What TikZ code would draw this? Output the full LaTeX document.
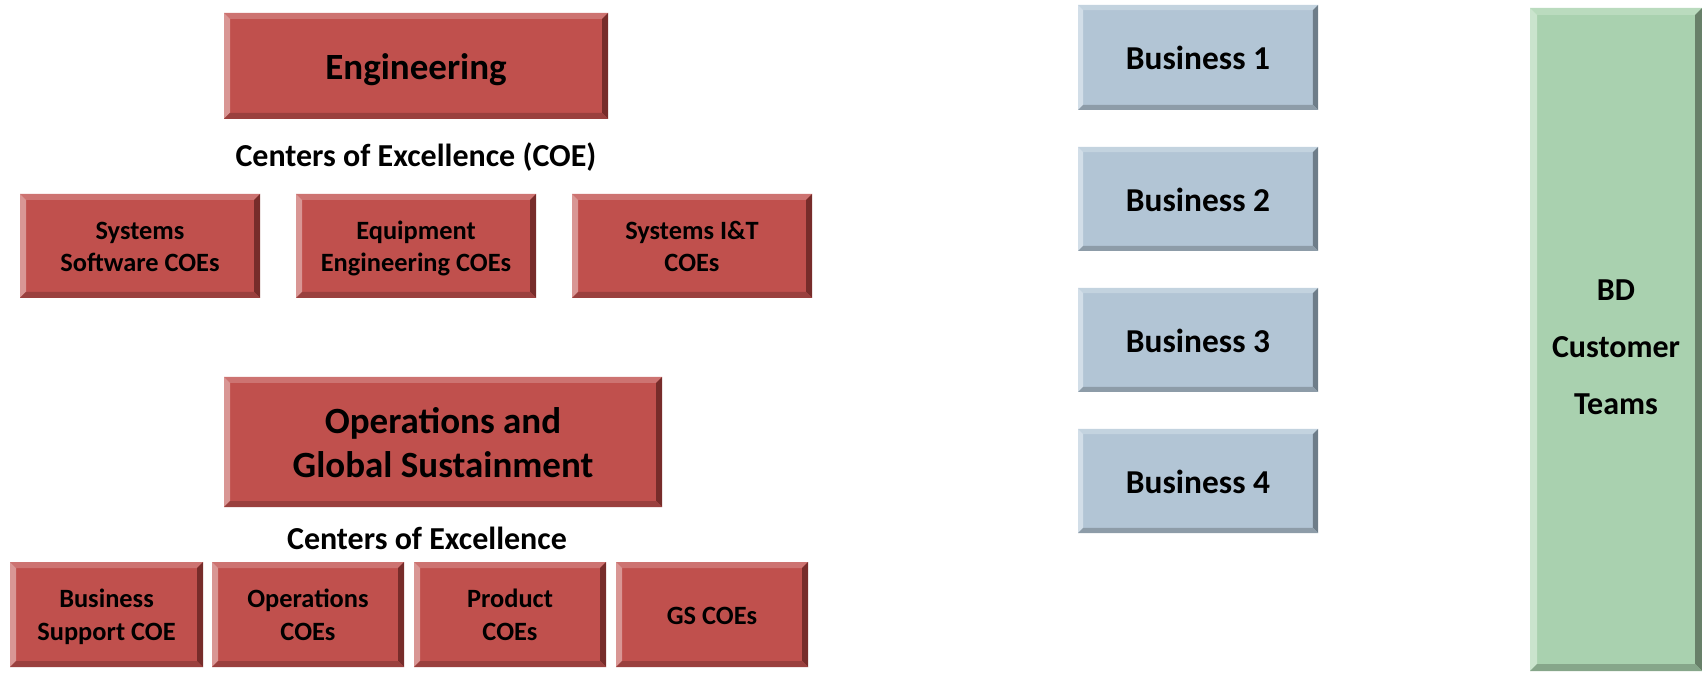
\documentclass[tikz,border=0pt]{standalone}
\usepackage{fontspec}
\setmainfont{Carlito}

% bevel palettes: face, top, left, right and bottom facets
\definecolor{redmain}{HTML}{C0504D}
\definecolor{redtop}{HTML}{CD7371}
\definecolor{redleft}{HTML}{D99694}
\definecolor{redright}{HTML}{772C2A}
\definecolor{redbot}{HTML}{9A403E}
\definecolor{bluemain}{HTML}{B2C5D5}
\definecolor{bluetop}{HTML}{C3D3DF}
\definecolor{blueleft}{HTML}{D2DEE8}
\definecolor{blueright}{HTML}{6E7D89}
\definecolor{bluebot}{HTML}{8D9CA8}
\definecolor{greenmain}{HTML}{A9D1AF}
\definecolor{greentop}{HTML}{BADBBE}
\definecolor{greenleft}{HTML}{CAE4CD}
\definecolor{greenright}{HTML}{688069}
\definecolor{greenbot}{HTML}{86A68A}

% line box: one baselineskip tall, with the capitals roughly centred in it
\newcommand\boxstrut{\vrule width0pt height\dimexpr0.5\baselineskip+0.36em\relax
  depth\dimexpr0.5\baselineskip-0.36em\relax}

\tikzset{
  bevel/.style 2 args={rectangle, inner sep=0pt, fill=#1main, align=center,
    font=\bfseries,
    path picture={
      \path (path picture bounding box.north west) coordinate (pNW)
            (path picture bounding box.north east) coordinate (pNE)
            (path picture bounding box.south west) coordinate (pSW)
            (path picture bounding box.south east) coordinate (pSE);
      \fill[#1top] (pNW) -- (pNE) -- ([shift={(-#2,-#2)}]pNE) -- ([shift={(#2,-#2)}]pNW) -- cycle;
      \fill[#1left] (pNW) -- ([shift={(#2,-#2)}]pNW) -- ([shift={(#2,#2)}]pSW) -- (pSW) -- cycle;
      \fill[#1right] (pNE) -- (pSE) -- ([shift={(-#2,#2)}]pSE) -- ([shift={(-#2,-#2)}]pNE) -- cycle;
      \fill[#1bot] (pSW) -- (pSE) -- ([shift={(-#2,#2)}]pSE) -- ([shift={(#2,#2)}]pSW) -- cycle;
    }},
  redbox/.style={bevel={red}{3pt}},
  bluebox/.style={bevel={blue}{2.6pt}, minimum width=120pt,
    font=\bfseries\fontsize{16.7}{20.5}\selectfont},
  greenbox/.style={bevel={green}{3.5pt}},
  headfont/.style={font=\bfseries\fontsize{18.5}{22.3}\selectfont},
  smallfont/.style={font=\bfseries\fontsize{13.2}{16.4}\selectfont},
  captionfont/.style={font=\bfseries\fontsize{16}{19}\selectfont, inner sep=0pt},
}

\begin{document}
\begin{tikzpicture}[x=0.5pt, y=-0.5pt]
\useasboundingbox (0,0) rectangle (1702,673);

% Engineering block and its centres of excellence
\node[redbox, headfont, minimum width=192pt, minimum height=53pt] (eng) at (416,66) {\boxstrut Engineering};
\node[captionfont] (coe1) at (416,157) {Centers of Excellence (COE)};
\node[redbox, smallfont, minimum width=120pt, minimum height=52pt] (sw) at (140,246) {\boxstrut Systems\\Software COEs\boxstrut};
\node[redbox, smallfont, minimum width=120pt, minimum height=52pt] (eq) at (416,246) {\boxstrut Equipment\\Engineering COEs\boxstrut};
\node[redbox, smallfont, minimum width=120pt, minimum height=52pt] (it) at (692,246) {\boxstrut Systems I\&T\\COEs\boxstrut};

% Operations block and its centres of excellence
\node[redbox, headfont, minimum width=219pt, minimum height=65pt] (ops) at (443,442) {\boxstrut Operations and\\Global Sustainment\boxstrut};
\node[captionfont] (coe2) at (427,538) {Centers of Excellence};
\node[redbox, smallfont, minimum width=96.5pt, minimum height=52.5pt] (bs) at (106.5,614.5) {\boxstrut Business\\Support COE\boxstrut};
\node[redbox, smallfont, minimum width=96pt, minimum height=52.5pt] (oc) at (308,614.5) {\boxstrut Operations\\COEs\boxstrut};
\node[redbox, smallfont, minimum width=96pt, minimum height=52.5pt] (pc) at (510,614.5) {\boxstrut Product\\COEs\boxstrut};
\node[redbox, smallfont, minimum width=96pt, minimum height=52.5pt] (gs) at (712,614.5) {\boxstrut GS COEs};

% Business units
\node[bluebox, minimum height=52.5pt] (b1) at (1198,57.5) {\boxstrut Business 1};
\node[bluebox, minimum height=52pt] (b2) at (1198,199) {\boxstrut Business 2};
\node[bluebox, minimum height=52pt] (b3) at (1198,340) {\boxstrut Business 3};
\node[bluebox, minimum height=52pt] (b4) at (1198,481) {\boxstrut Business 4};

% Customer teams column
\node[greenbox, minimum width=86pt, minimum height=331.5pt] (bd) at (1616,339.5) {};
\node[align=center, font=\bfseries\fontsize{16}{28.5}\selectfont, inner sep=0pt] (bdlabel) at (1616,347) {BD\\Customer\\Teams};
\end{tikzpicture}
\end{document}
